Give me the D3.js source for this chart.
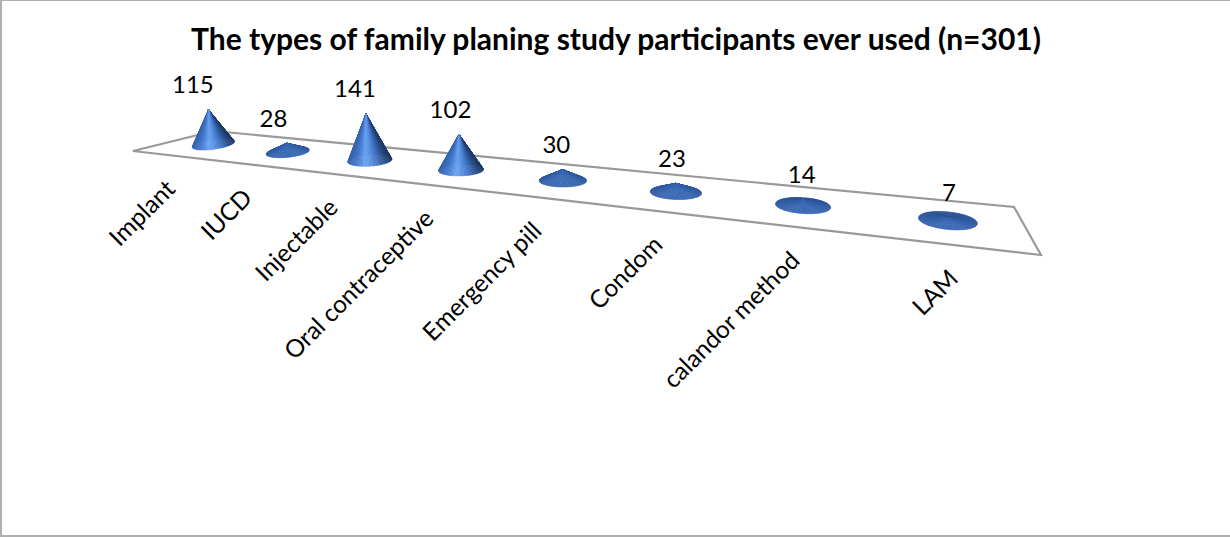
<!DOCTYPE html>
<html>
<head>
<meta charset="utf-8">
<script src="https://cdn.jsdelivr.net/npm/d3@7"></script>
<style>
html,body{margin:0;padding:0;background:#fff}
svg{display:block}
text{font-family:Lato,"Open Sans",sans-serif;fill:#000}
</style>
</head>
<body>
<div id="chart"></div>
<script>
const titleText = "The types of family planing study participants ever used (n=301)";
const categories = ["Implant","IUCD","Injectable","Oral contraceptive","Emergency pill","Condom","calandor method","LAM"];
const values = [115,28,141,102,30,23,14,7];

const W = 1230, H = 537;
const svg = d3.select("#chart").append("svg").attr("width",W).attr("height",H);

// chart frame
svg.append("path").attr("d",`M1,0H${W}M1,0V${H-1}H${W}`)
  .attr("fill","none").attr("stroke","#b0b0b0").attr("stroke-width",2);

svg.append("text").attr("x",616).attr("y",50).attr("text-anchor","middle")
  .attr("font-size",30).attr("font-weight",700).text(titleText);

// floor of the 3-D chart: perspective map from unit square to the floor quad
const quad = {p00:[133,151],p10:[1041,255],p11:[1014,207],p01:[214,131]};
function makeProjection(q){
  const [x0,y0]=q.p00,[x1,y1]=q.p10,[x2,y2]=q.p11,[x3,y3]=q.p01;
  const dx1=x1-x2,dx2=x3-x2,sx=x0-x1+x2-x3,dy1=y1-y2,dy2=y3-y2,sy=y0-y1+y2-y3;
  const det=dx1*dy2-dx2*dy1;
  const g=(sx*dy2-dx2*sy)/det,h=(dx1*sy-sx*dy1)/det;
  const a=x1-x0+g*x1,b=x3-x0+h*x3,d=y1-y0+g*y1,e=y3-y0+h*y3;
  const f=(u,v)=>{const w=g*u+h*v+1;return {x:(a*u+b*v+x0)/w,y:(d*u+e*v+y0)/w,w};};
  return f;
}
const project = makeProjection(quad);

const band = d3.scaleBand().domain(categories).range([0.0074,1.0014]);
const depth = d3.scaleLinear().domain([0,0.6,1]).range([-0.002,0.603,1]);
const uOf = c => depth(band(c)+band.bandwidth()/2);
const height = d3.scaleLinear().domain([0,141]).range([0,43.7]);
const radius = d3.scaleLinear().domain([0,0.5,1]).range([21,22.6,30.5]);
const flatten = d3.scaleLinear().domain([0,1]).range([0.23,0.30]);
const tilt = d3.scaleLinear().domain([0,1]).range([-9,7]);
const lean = d3.scaleLinear().domain([0,0.7]).range([-0.154,0]);
const labelShift = d3.scaleLinear().domain([0,1]).range([-17,2]);

const floor = [quad.p00,quad.p10,quad.p11,quad.p01];
svg.append("path").attr("d",d3.line()(floor)+"Z")
  .attr("fill","none").attr("stroke","#999").attr("stroke-width",2.2);

// shading of the cone around its base
const lit = d3.scaleLinear().domain([-1,-0.6,-0.2,0.35,0.75,1])
  .range(["#3463ad","#4579cc","#6ba3f5","#3f72c0","#27487f","#1d3862"]).interpolate(d3.interpolateRgb);
const flatTone = d3.scaleLinear().domain([-1,1]).range(["#2a5090","#3767b3"]);
const flatMix = d3.scaleLinear().domain([10,30]).range([1,0]).clamp(true);

const cones = categories.map((c,i)=>{
  const u=uOf(c), p=project(u,0.5);
  const h=height(values[i])/p.w;
  const rx=radius(u), ry=rx*flatten(u), t=tilt(u)*Math.PI/180;
  const apex=[p.x+lean(u)*h,p.y-h];
  return {c,value:values[i],u,p,h,rx,ry,t,apex,front:project(u,0)};
});

const gCones = svg.append("g");
const step = 2*Math.PI/96;
cones.forEach(k=>{
  const pt=a=>{
    const ex=k.rx*Math.cos(a),ey=k.ry*Math.sin(a);
    return [k.p.x+ex*Math.cos(k.t)-ey*Math.sin(k.t),k.p.y+ex*Math.sin(k.t)+ey*Math.cos(k.t)];
  };
  const tone=a=>{
    const m=a+step/2;
    return d3.interpolateRgb(lit(Math.cos(m)),flatTone(Math.sin(m)))(flatMix(k.h));
  };
  const sectors=d3.range(96).map(i=>i*step).sort((a,b)=>Math.sin(a+step/2)-Math.sin(b+step/2));
  gCones.append("g").selectAll("path").data(sectors).join("path")
    .attr("d",a=>d3.line()([k.apex,pt(a),pt(a+step)])+"Z")
    .attr("fill",tone).attr("stroke",tone).attr("stroke-width",0.5);
});

svg.append("g").selectAll("text").data(cones).join("text")
  .attr("x",k=>k.apex[0]+labelShift(k.u))
  .attr("y",k=>k.apex[1]-16.5)
  .attr("text-anchor","middle").attr("font-size",24)
  .text(k=>k.value);

svg.append("g").selectAll("text").data(cones).join("text")
  .attr("transform",k=>`translate(${k.front.x+5},${k.front.y+35}) rotate(-45)`)
  .attr("text-anchor","end").attr("font-size",24.5)
  .text(k=>k.c);
</script>
</body>
</html>
